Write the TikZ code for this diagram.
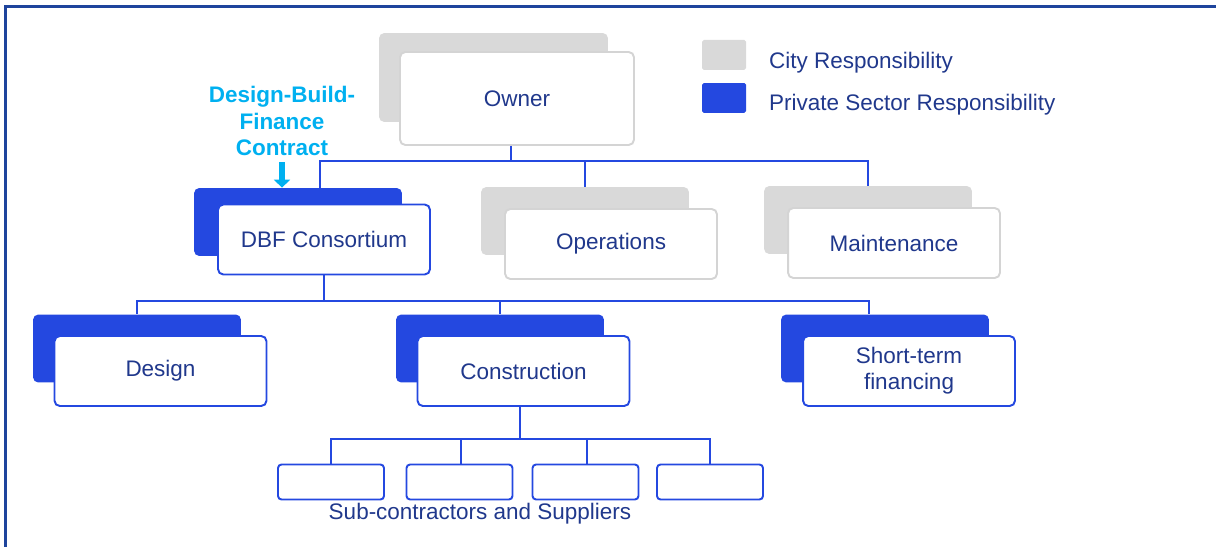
\documentclass[tikz,border=0pt]{standalone}
\usepackage{fontspec}
\setmainfont{Liberation Sans}
\usetikzlibrary{arrows.meta}

\definecolor{navy}{RGB}{32,56,140}
\definecolor{linkblue}{RGB}{36,72,224}
\definecolor{cityfill}{RGB}{217,217,217}
\definecolor{cityedge}{RGB}{212,212,212}
\definecolor{contract}{RGB}{0,176,240}
\definecolor{framecol}{RGB}{30,68,156}

\tikzset{
  orgbox/.style={rectangle, rounded corners=3pt, line width=1.1pt, fill=white,
    align=center, text=navy, minimum width=4.24cm, minimum height=1.4cm},
  privbox/.style={orgbox, draw=linkblue},
  citybox/.style={orgbox, draw=cityedge},
  privshadow/.style={rectangle, rounded corners=3pt, fill=linkblue,
    minimum width=4.16cm, minimum height=1.36cm},
  cityshadow/.style={privshadow, fill=cityfill},
  subbox/.style={rectangle, rounded corners=2pt, line width=1.1pt, draw=linkblue,
    minimum width=2.12cm, minimum height=0.7cm},
  link/.style={draw=linkblue, line width=1.1pt},
}

\begin{document}
\begin{tikzpicture}[x=0.02cm, y=-0.02cm, font=\fontsize{12.8pt}{15pt}\selectfont]
        \useasboundingbox (0,0) rectangle (1216,547);
        \draw[framecol, line width=1.3pt] (5.5,547) -- (5.5,6.5) -- (1216,6.5);

        % top level
        \node [cityshadow, minimum width=4.58cm, minimum height=1.78cm] (ownerb) at (493.5,77.5) {};
        \node [citybox, minimum width=4.68cm, minimum height=1.86cm] (owner) at (517,98.5) {Owner};

        % legend
        \node [cityshadow, rounded corners=1pt, minimum width=0.88cm, minimum height=0.6cm] (citykey) at (724,55) {};
        \node [privshadow, rounded corners=1pt, minimum width=0.88cm, minimum height=0.6cm] (privkey) at (724,98) {};
        \node [anchor=west, text=navy] (citytxt) at (763,63) {City Responsibility};
        \node [anchor=west, text=navy] (privtxt) at (763,105) {Private Sector Responsibility};

        % second level
        \node [privshadow] (dbfb) at (298,222) {};
        \node [privbox] (dbf) at (324,239.5) {DBF Consortium};
        \node [cityshadow] (opsb) at (585,221) {};
        \node [citybox] (ops) at (611,244) {Operations};
        \node [cityshadow] (maintb) at (868,220) {};
        \node [citybox] (maint) at (894,243) {Maintenance};

        \node [text=contract, align=center, font=\fontsize{12.8pt}{15.3pt}\selectfont\bfseries] (dbflabel) at (282,121) {Design-Build-\\Finance\\Contract};
        \draw[contract, line width=0.12cm, -{Triangle[width=0.32cm,length=0.16cm]}] (dbflabel.south) -- (dbflabel.south |- dbfb.north);

        % third level
        \node [privshadow] (designb) at (137,348.5) {};
        \node [privbox] (design) at (160.5,371) {Design};
        \node [privshadow] (constb) at (500,348.5) {};
        \node [privbox] (const) at (523.5,371) {Construction};
        \node [privshadow] (stfb) at (885,348.5) {};
        \node [privbox] (stf) at (909,371) {Short-term\\financing};

        % suppliers
        \node [subbox] (sub1) at (331,482) {};
        \node [subbox] (sub2) at (459.5,482) {};
        \node [subbox] (sub3) at (585.5,482) {};
        \node [subbox] (sub4) at (710,482) {};
        \node [text=navy] (subtxt) at (480,514) {Sub-contractors and Suppliers};

        % connectors
        \coordinate (bus1) at (0,161);
        \coordinate (bus2) at (0,301);
        \coordinate (bus3) at (0,439);
        \coordinate (ownerdrop) at ([xshift=-0.12cm]owner.south);
        \coordinate (dbfdrop) at ([xshift=-0.08cm]dbf.north |- dbfb.north);
        \coordinate (stfdrop) at ([xshift=-0.32cm]stfb.north);
        \coordinate (constdrop) at ([xshift=-0.07cm]const.south);

        \draw[link] (ownerdrop) -- (ownerdrop |- bus1);
        \draw[link] (dbfdrop) |- (bus1 -| maintb.north) -- (maintb.north);
        \draw[link] (opsb.north) -- (opsb.north |- bus1);

        \draw[link] (dbf.south) -- (dbf.south |- bus2);
        \draw[link] (designb.north) |- (bus2 -| stfdrop) -- (stfdrop);
        \draw[link] (constb.north) -- (constb.north |- bus2);

        \draw[link] (constdrop) -- (constdrop |- bus3);
        \draw[link] (sub1.north) |- (bus3 -| sub4.north) -- (sub4.north);
        \foreach \i in {2,3}
          \draw[link] ([xshift=0.03cm]sub\i.north) -- ([xshift=0.03cm]sub\i.north |- bus3);
      \end{tikzpicture}
\end{document}
